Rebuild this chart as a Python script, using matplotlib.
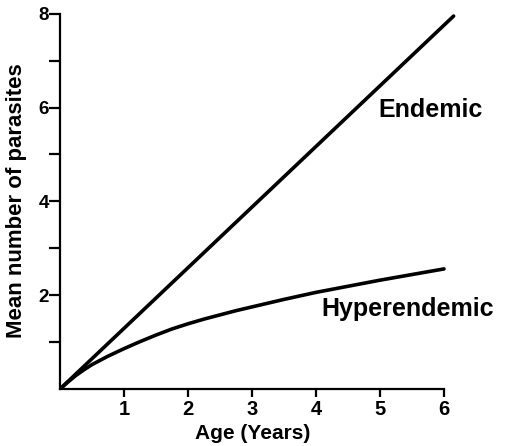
import matplotlib
matplotlib.use("Agg")
import matplotlib.pyplot as plt

# Data
endemic_x = [0, 6.15]
endemic_y = [0, 7.95]

hyper_x = [0, 0.125, 0.25, 0.375, 0.5, 0.75, 1.0, 1.25, 1.5, 1.75, 2.0, 2.25, 2.5, 2.75,
           3.0, 3.5, 4.0, 4.5, 5.0, 5.5, 6.0]
hyper_y = [0, 0.15, 0.29, 0.41, 0.52, 0.70, 0.86, 1.01, 1.15, 1.28, 1.39, 1.49, 1.58, 1.67,
           1.75, 1.91, 2.06, 2.19, 2.32, 2.44, 2.56]

x_ticks = [1, 2, 3, 4, 5, 6]
x_tick_labels = ["1", "2", "3", "4", "5", "6"]
y_ticks = [1, 2, 3, 4, 5, 6, 7, 8]
y_tick_labels = ["", "2", "", "4", "", "6", "", "8"]

plt.rcParams['font.family'] = ['Liberation Sans', 'DejaVu Sans']
plt.rcParams['font.weight'] = 'bold'

W, H = 513, 446
fig = plt.figure(figsize=(W / 100, H / 100), dpi=100)
ax = fig.add_axes([60 / W, 57 / H, 416 / W, 387 / H])

ax.plot(endemic_x, endemic_y, color='black', lw=2.6, solid_capstyle='round')
ax.plot(hyper_x, hyper_y, color='black', lw=2.6, solid_capstyle='round',
        solid_joinstyle='round')

ax.set_xlim(0, 6.5)
ax.set_ylim(0, 8.25)

for s in ['top', 'right']:
    ax.spines[s].set_visible(False)
for s in ['left', 'bottom']:
    ax.spines[s].set_linewidth(1.6)
ax.spines['bottom'].set_bounds(0, 6)
ax.spines['left'].set_bounds(0, 8)

ax.set_xticks(x_ticks)
ax.set_xticklabels(x_tick_labels, fontsize=14.5, fontweight='bold')
ax.set_yticks(y_ticks)
ax.set_yticklabels(y_tick_labels, fontsize=13.5, fontweight='bold')
ax.tick_params(axis='x', direction='out', length=6, width=1.6, pad=2)
ax.tick_params(axis='y', direction='out', length=8, width=1.6, pad=0)

ax.text(4.97, 5.8, "Endemic", fontsize=18, fontweight='bold', ha='left', va='baseline')
ax.text(4.09, 1.56, "Hyperendemic", fontsize=18, fontweight='bold', ha='left', va='baseline')

fig.text(17 / W, 1 - 201 / H, "Mean number of parasites", rotation=90,
         fontsize=16, fontweight='bold', ha='center', va='center')
fig.text(253 / W, 7 / H, "Age (Years)", fontsize=15, fontweight='bold',
         ha='center', va='baseline')

fig.savefig("out.png", dpi=100)
